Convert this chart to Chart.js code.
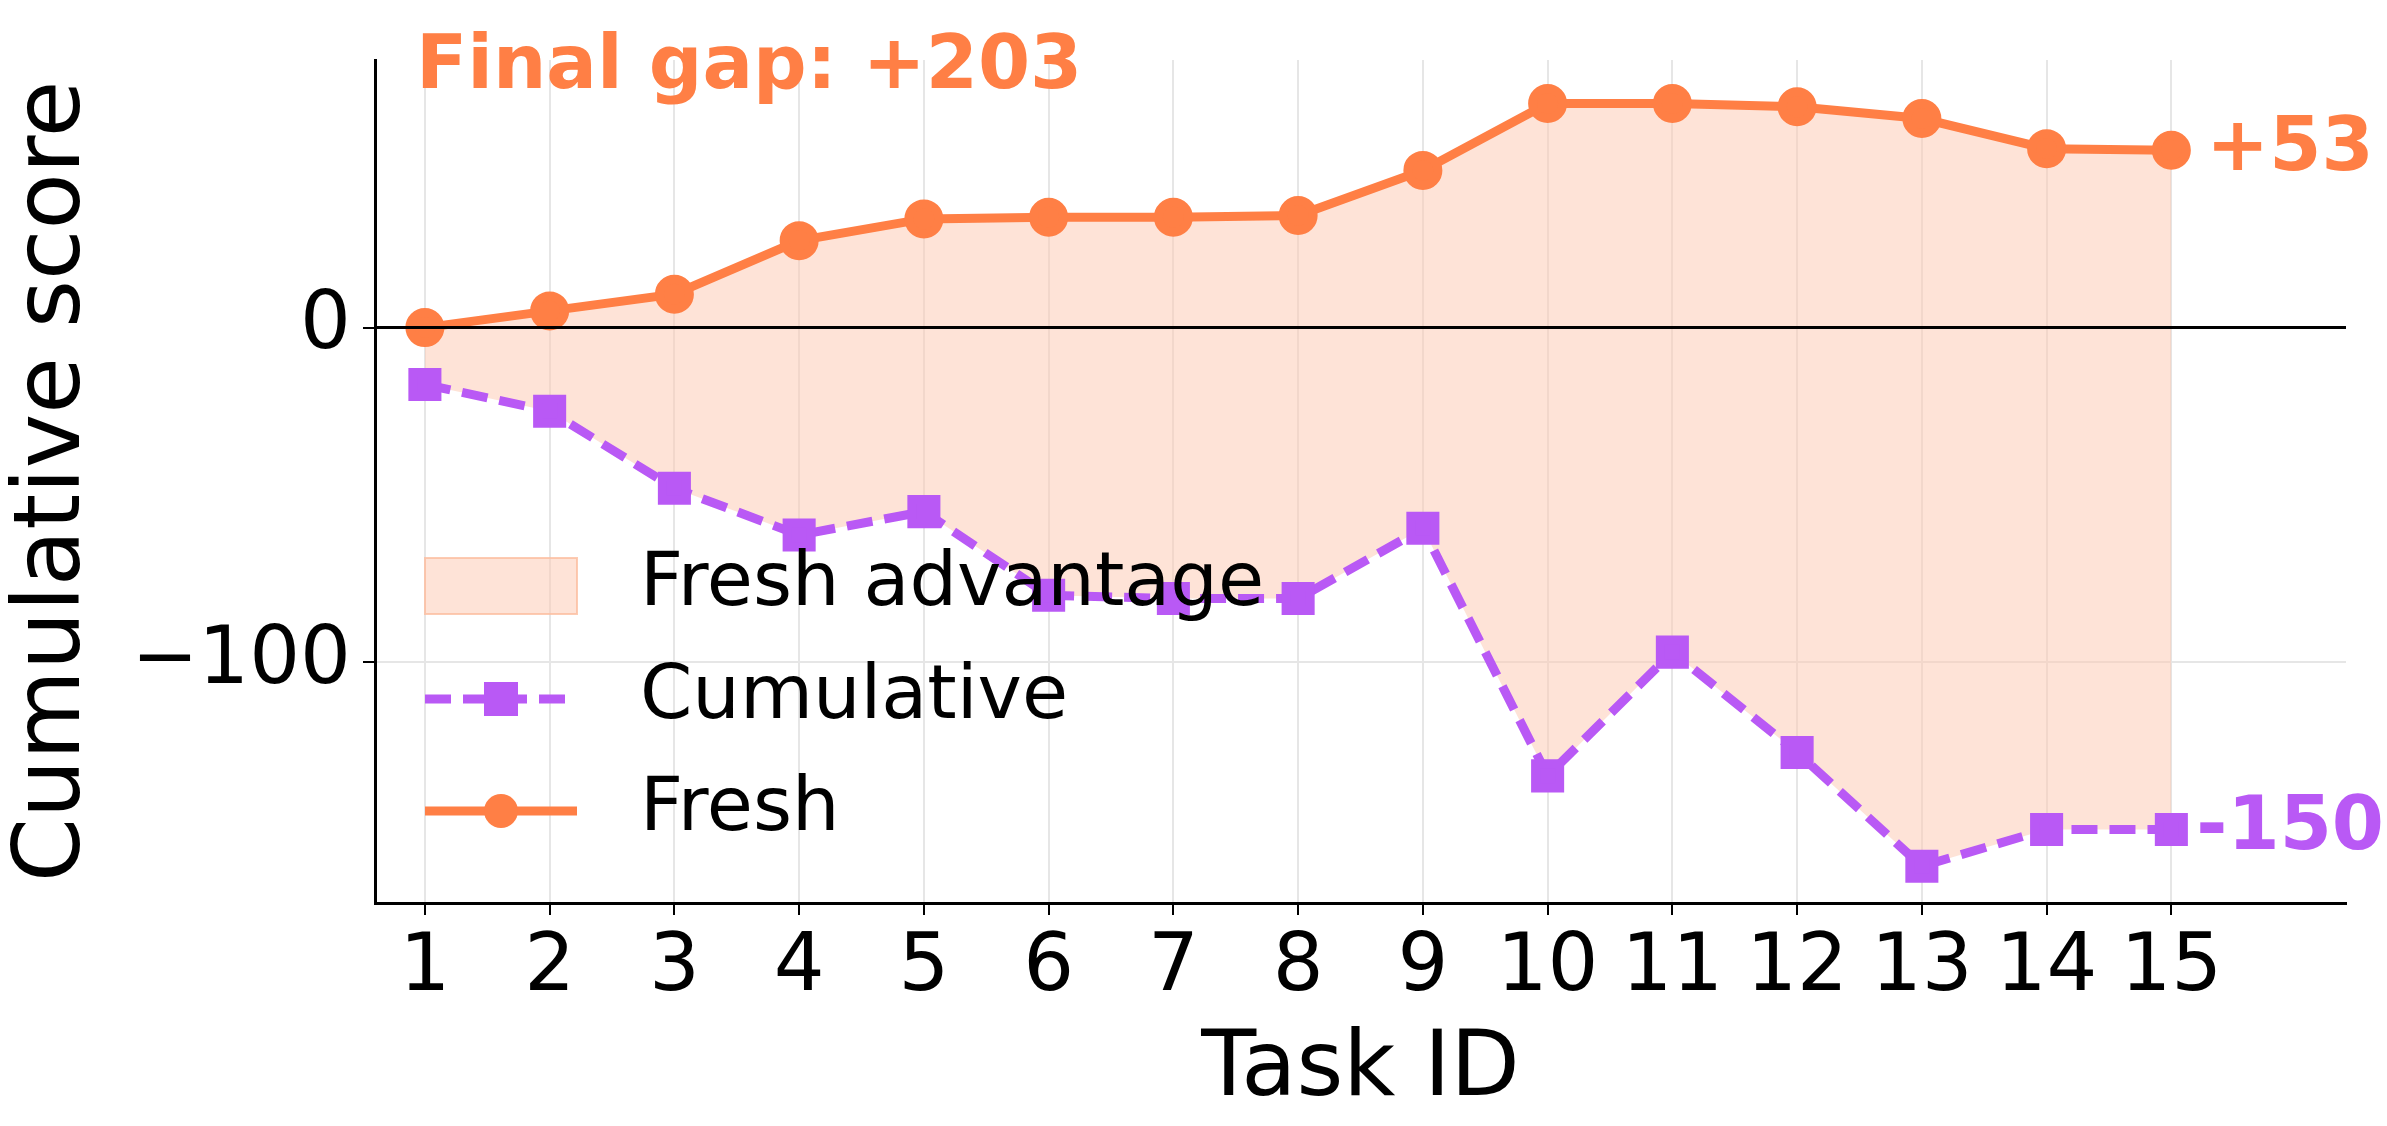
<!DOCTYPE html>
<html>
<head>
<meta charset="utf-8">
<script src="https://cdn.jsdelivr.net/npm/chart.js@4/dist/chart.umd.min.js"></script>
<style>
  html, body { margin: 0; padding: 0; background: #fff; }
  #wrap { width: 2387px; height: 1126px; }
</style>
</head>
<body>
<div id="wrap"><canvas id="chart"></canvas></div>
<script>
// task ids and the two cumulative series
const taskIds = [1, 2, 3, 4, 5, 6, 7, 8, 9, 10, 11, 12, 13, 14, 15];
const freshScores = [0, 5, 10, 26, 32.5, 33, 33, 33.5, 47, 67, 67, 66, 62.5, 53.5, 53];
const cumulativeScores = [-17, -25, -48, -62, -55, -80, -81, -81, -60, -134, -97, -127, -161, -150, -150];
const yTicks = [0, -100];

const ORANGE = '#FF7F45';
const PURPLE = '#B959F5';
const FILL = 'rgba(253, 200, 175, 0.5)';
const FONT = 'DejaVu Sans';

const lastFresh = freshScores[freshScores.length - 1];
const lastCum = cumulativeScores[cumulativeScores.length - 1];

// texts and legend drawn on top of the chart
const overlay = {
  id: 'overlay',
  afterDatasetsDraw(chart) {
    const { ctx, scales: { x, y } } = chart;
    ctx.save();
    // zero line
    ctx.strokeStyle = '#000';
    ctx.lineWidth = 3;
    ctx.beginPath();
    ctx.moveTo(chart.chartArea.left, y.getPixelForValue(0));
    ctx.lineTo(chart.chartArea.right, y.getPixelForValue(0));
    ctx.stroke();

    ctx.font = 'bold 75px ' + FONT;
    ctx.textBaseline = 'middle';
    ctx.fillStyle = ORANGE;
    ctx.textAlign = 'left';
    ctx.fillText('Final gap: +' + Math.round(lastFresh - lastCum), 416, 69);
    const xe = x.getPixelForValue(taskIds[taskIds.length - 1]) + 35;
    ctx.fillText('+' + Math.round(lastFresh), xe, y.getPixelForValue(lastFresh));
    ctx.fillStyle = PURPLE;
    ctx.fillText(String(Math.round(lastCum)), xe - 10, y.getPixelForValue(lastCum));

    // legend
    const lx = 425, items = [586, 699, 811];
    ctx.font = '75px ' + FONT;
    ctx.fillStyle = '#000';
    ctx.fillText('Fresh advantage', 640, items[0]);
    ctx.fillText('Cumulative', 640, items[1]);
    ctx.fillText('Fresh', 640, items[2]);
    ctx.fillStyle = FILL;
    ctx.strokeStyle = 'rgba(253, 190, 160, 0.8)';
    ctx.lineWidth = 2;
    ctx.fillRect(lx, items[0] - 28, 152, 56);
    ctx.strokeRect(lx, items[0] - 28, 152, 56);
    ctx.strokeStyle = PURPLE;
    ctx.lineWidth = 9;
    ctx.setLineDash([26, 12]);
    ctx.beginPath(); ctx.moveTo(lx, items[1]); ctx.lineTo(lx + 152, items[1]); ctx.stroke();
    ctx.setLineDash([]);
    ctx.fillStyle = PURPLE;
    ctx.fillRect(lx + 76 - 17, items[1] - 17, 34, 34);
    ctx.strokeStyle = ORANGE;
    ctx.beginPath(); ctx.moveTo(lx, items[2]); ctx.lineTo(lx + 152, items[2]); ctx.stroke();
    ctx.fillStyle = ORANGE;
    ctx.beginPath(); ctx.arc(lx + 76, items[2], 17, 0, Math.PI * 2); ctx.fill();
    ctx.restore();
  }
};

new Chart(document.getElementById('chart'), {
  type: 'line',
  data: {
    labels: taskIds,
    datasets: [{
      label: 'Fresh',
      data: taskIds.map((t, i) => ({ x: t, y: freshScores[i] })),
      borderColor: ORANGE,
      backgroundColor: FILL,
      pointBackgroundColor: ORANGE,
      pointBorderColor: ORANGE,
      pointRadius: 15,
      borderWidth: 9,
      fill: { target: 1 },
      order: 1
    }, {
      label: 'Cumulative',
      data: taskIds.map((t, i) => ({ x: t, y: cumulativeScores[i] })),
      borderColor: PURPLE,
      pointBackgroundColor: PURPLE,
      pointBorderColor: PURPLE,
      pointStyle: 'rect',
      pointRadius: 17,
      borderWidth: 9,
      borderDash: [26, 12],
      fill: false,
      order: 0
    }]
  },
  options: {
    responsive: true,
    maintainAspectRatio: false,
    animation: false,
    clip: false,
    layout: { padding: { top: -53, right: 41, bottom: 0, left: 0 } },
    plugins: { legend: { display: false }, tooltip: { enabled: false } },
    scales: {
      x: {
        type: 'linear',
        min: 0.6, max: 16.4,
        afterBuildTicks(s) { s.ticks = taskIds.map(v => ({ value: v })); },
        afterFit(s) { s.height = 223; },
        ticks: { color: '#000', font: { family: FONT, size: 80 }, padding: 6, callback: v => v },
        grid: { color: '#e6e6e6', lineWidth: 2, drawTicks: true, tickLength: 12, tickColor: '#000' },
        border: { color: '#000', width: 3 },
        title: { display: true, text: 'Task ID', color: '#000', font: { family: FONT, size: 90 }, padding: 0 }
      },
      y: {
        min: -172, max: 80,
        afterBuildTicks(s) { s.ticks = yTicks.map(v => ({ value: v })); },
        afterFit(s) { s.width = 375; },
        ticks: { color: '#000', font: { family: FONT, size: 80 }, padding: 12, callback: v => v < 0 ? '\u2212' + Math.abs(v) : v },
        grid: { color: '#e6e6e6', lineWidth: 2, tickLength: 12, tickColor: '#000' },
        border: { color: '#000', width: 3 },
        title: { display: true, text: 'Cumulative score', color: '#000', font: { family: FONT, size: 92 }, padding: 0 }
      }
    }
  },
  plugins: [overlay]
});
</script>
</body>
</html>
